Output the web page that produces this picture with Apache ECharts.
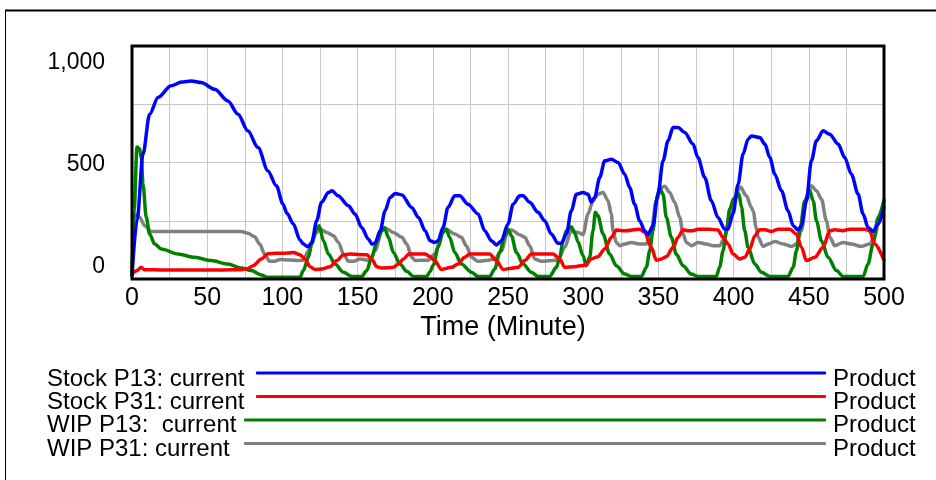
<!DOCTYPE html>
<html>
<head>
<meta charset="utf-8">
<script src="https://cdn.jsdelivr.net/npm/echarts@6/dist/echarts.min.js"></script>
<style>
  html, body { margin: 0; padding: 0; background: #fff; }
  #chart { width: 936px; height: 480px; }
</style>
</head>
<body>
<div id="chart"></div>
<script>
// ---- data (Time in minutes, value in Product) ----
const seriesNames = ['Stock P13: current', 'Stock P31: current', 'WIP P13:  current', 'WIP P31: current'];
const seriesColors = ['#0000ff', '#ff0000', '#008000', '#808080'];
const unitLabel = 'Product';
const xTitle = 'Time (Minute)';
const yLabelValues = [0, 500, 1000];

const stockP13 = [[0,15],[3.5,260],[7.3,536],[11.7,707],[17.3,779],[26,829],[33,845],[39.5,850],[46,843],[55,814],[63.8,764],[70.5,707],[77,636],[83.8,564],[90.4,464],[96,400],[100.4,321],[103,282],[107.3,236],[111.7,167],[114,150],[117,138],[119.5,157],[122.8,250],[126,329],[130.6,371],[133,379],[137,357],[143.9,314],[148.3,279],[152.7,221],[157.2,171],[159.4,150],[161.6,154],[165,207],[168.3,293],[171.6,350],[175,367],[179.4,361],[186,307],[190.5,264],[194.9,207],[198.2,164],[201.3,157],[203.5,164],[206.8,221],[210.1,307],[214.6,357],[217.9,357],[223.4,321],[230.1,279],[234.5,207],[239,164],[242.3,146],[245.6,164],[250,236],[253.4,321],[257.8,357],[260,357],[264.4,329],[270,286],[274.4,250],[278.8,193],[283.3,153],[285.5,153],[288.8,193],[292.1,293],[295.5,364],[299.9,371],[303.2,364],[305.4,329],[307.6,350],[311,436],[314.3,507],[318.7,514],[323.2,500],[327.6,450],[330.9,393],[334.2,321],[337.5,250],[340.9,207],[343.1,190],[346.4,229],[349.7,364],[353.1,507],[356.4,593],[359.7,650],[363.1,650],[367.5,629],[373,579],[376.3,521],[380.8,436],[385.2,336],[389.6,264],[394.1,214],[396.3,214],[399.6,280],[403,407],[406.3,536],[409.6,600],[411.9,614],[417.4,607],[420.8,579],[424.1,521],[427.4,450],[431.8,379],[436.2,293],[439.6,229],[442.9,210],[445.1,229],[448.4,336],[451.7,507],[455.1,593],[459.5,636],[463.9,621],[469.5,579],[473.9,521],[478.3,450],[482.8,364],[486.1,279],[489.4,221],[492.7,204],[496.1,236],[500,310]];

const stockP31 = [[0,22],[3,35],[6.2,50],[8,40],[20,39],[40,39],[60,39],[72.7,40],[77,45],[80.5,57],[86,86],[90.4,108],[96,110],[100.4,110],[104,112],[107.3,114],[111.7,104],[115,86],[118.4,53],[121.7,41],[126.2,43],[131.7,53],[136.2,79],[140.6,104],[145,107],[156.1,104],[159.4,86],[162.7,53],[166.1,47],[173.8,50],[177.1,64],[180.5,86],[184.2,107],[194.9,107],[198.2,95],[201.3,79],[205.7,41],[212.4,50],[216.8,64],[221.2,93],[224.5,107],[237.8,107],[242.3,79],[246.7,41],[252.3,46],[256.7,50],[261.2,79],[265.6,107],[280,107],[284.4,86],[287.7,50],[294.4,53],[299.9,58],[301.5,60],[305.4,86],[309.8,96],[314.3,129],[318.7,179],[322,210],[327.6,207],[337.5,214],[340.9,200],[345.3,136],[348.6,81],[352,86],[355.3,96],[359.7,136],[363.1,179],[366.4,211],[369.7,207],[373,207],[376.3,214],[384.1,214],[389.6,210],[393,179],[396.3,150],[399.7,107],[404.1,86],[407.4,93],[410.8,129],[414.1,186],[417.4,211],[420.8,211],[425.2,204],[429.7,214],[437.4,214],[441.8,193],[445.1,136],[448.4,79],[454,93],[459.5,136],[463.9,207],[467.3,211],[472.8,207],[477.2,214],[487.2,214],[490.5,207],[493.8,150],[500,80]];

const wipP13 = [[0,20],[1.5,300],[3.3,566],[5,560],[6.2,520],[7.3,407],[9.5,264],[11.7,193],[15.1,150],[19.5,129],[30.6,107],[41.7,93],[52.7,79],[63.8,64],[72.7,47],[79.3,36],[86,17],[90.4,7],[100,7],[111.7,7],[113.9,36],[117.3,93],[119.5,150],[122.8,214],[124.4,229],[127.3,164],[130.6,107],[135,64],[140.6,29],[146.1,11],[152.7,11],[156.1,36],[159.4,93],[162.7,157],[166.1,207],[167.8,221],[170.5,179],[173.8,114],[178.2,64],[182.7,33],[187.1,11],[196,11],[198,30],[200.4,60],[203.5,136],[206.8,200],[209,214],[211.2,179],[214.6,114],[219,64],[225.7,29],[230.1,11],[237.8,11],[241.2,43],[244.5,114],[247.8,186],[250,214],[252.3,186],[255.6,114],[260,64],[265.6,29],[270,11],[277.7,11],[282.2,50],[284.4,93],[286.6,164],[288.8,207],[292.1,224],[294.5,195],[296.5,160],[299.9,100],[302.1,57],[304.3,93],[306.5,207],[308.1,286],[309.8,271],[313.2,193],[317.6,107],[322,57],[327.6,21],[332,11],[338.7,11],[342,50],[344.2,121],[346.4,207],[348.6,336],[350.8,393],[353.1,364],[355.3,264],[358.6,179],[361.9,107],[366.4,57],[371.9,21],[376.3,11],[388.5,11],[390.7,50],[393,121],[395.2,207],[397.4,300],[400,345],[403.5,366],[405.2,310],[407.4,207],[409.6,136],[414.1,64],[418.5,29],[424.1,11],[436.2,11],[439.6,50],[441.8,121],[444,207],[447.3,336],[450.6,380],[452.9,336],[455.1,250],[458.4,164],[462.8,93],[468.4,36],[472.8,11],[486.1,11],[489.4,64],[492.7,150],[496.1,264],[500,340]];

const wipP31 = [[0,20],[1.5,200],[3,275],[5.1,264],[8.4,229],[12.9,204],[20,204],[40,204],[60,204],[72.7,204],[77.1,196],[81.6,181],[84.9,150],[88.2,107],[91.5,76],[94.9,76],[98.4,84],[105,82],[110.6,79],[113.9,81],[117.3,121],[121.7,193],[125.1,214],[129.5,200],[133.9,186],[137.3,157],[140.6,107],[144,76],[147.2,76],[151.6,86],[158.3,79],[161.6,121],[166.1,207],[168.3,219],[173.8,200],[179.4,179],[182.7,150],[186,93],[188.3,79],[193.8,81],[196.8,81],[201.3,107],[206.8,207],[209,214],[214.6,193],[219,179],[222.3,143],[225.7,93],[230.1,76],[236.8,81],[241.2,86],[245.6,121],[250,207],[252.3,210],[257.8,190],[261.2,179],[264.4,143],[267.8,86],[272.2,76],[278.8,79],[283.3,81],[287.7,136],[292.1,207],[296.6,200],[299.9,190],[303.2,279],[306.5,336],[309.8,364],[313.2,371],[316.5,336],[318.7,279],[319.8,207],[322,157],[324.3,143],[327.6,150],[332,157],[337.5,150],[342,150],[345.3,214],[348.6,336],[352,393],[354.2,398],[357.5,371],[360.8,329],[364.2,264],[366.4,193],[368.6,157],[372,143],[376.3,157],[381.9,150],[386.3,143],[390.7,143],[394.1,179],[397.4,264],[400,330],[404.5,395],[408.5,357],[411.9,307],[413.1,290],[414.9,224],[416.3,180],[419.6,140],[423,150],[427.4,161],[432.9,150],[438.5,140],[441.8,150],[445.1,207],[448.4,336],[451.7,400],[455.1,379],[458.4,343],[461.7,250],[464,179],[467.3,143],[472.8,157],[478.3,150],[485,140],[490.5,150],[493.8,186],[497.2,264],[500,330]];

const seriesData = [stockP13, stockP31, wipP13, wipP31];

// ---- chart ----
const FONT = '"Liberation Sans", Arial, Helvetica, sans-serif';
const chart = echarts.init(document.getElementById('chart'), null, { renderer: 'canvas' });

const legendText = { fontSize: 24, fontFamily: FONT, color: '#000', lineHeight: 23 };
const lineLegendBase = {
  orient: 'vertical', padding: 0, itemGap: 20.5, itemHeight: 3, icon: 'roundRect',
  selectedMode: false, formatter: () => '', textStyle: { fontSize: 2, lineHeight: 2 }
};
const textLegendBase = {
  orient: 'vertical', padding: 0, itemGap: -0.6, itemWidth: 0, itemHeight: 23, icon: 'none',
  selectedMode: false, textStyle: legendText
};

const option = {
  animation: false,
  backgroundColor: '#ffffff',
  textStyle: { fontFamily: FONT },
  graphic: [
    { type: 'line', silent: true, shape: { x1: 5.5, y1: 10, x2: 5.5, y2: 480 }, style: { stroke: '#000', lineWidth: 1 } },
    { type: 'line', silent: true, shape: { x1: 5, y1: 10.5, x2: 936, y2: 10.5 }, style: { stroke: '#000', lineWidth: 2 } }
  ],
  grid: { left: 132, top: 46, right: 52, bottom: 201, show: true, borderColor: '#000', borderWidth: 3, backgroundColor: 'transparent', z: 10 },
  xAxis: {
    type: 'value', min: 0, max: 500, interval: 25,
    axisLine: { show: false }, axisTick: { show: false },
    splitLine: { show: true, lineStyle: { color: '#c8c8c8', width: 1 } },
    axisLabel: { formatter: v => (v % 50 === 0 ? String(v) : ''), fontSize: 25, color: '#000', margin: 7, fontFamily: FONT },
    name: xTitle, nameLocation: 'middle', nameGap: 35,
    nameTextStyle: { fontSize: 27, color: '#000', fontFamily: FONT, padding: [0, 10, 0, 0] }
  },
  yAxis: [
    {
      type: 'value', min: 0, max: 1000, interval: 250,
      axisLine: { show: false }, axisTick: { show: false }, axisLabel: { show: false },
      splitLine: { show: true, lineStyle: { color: '#c8c8c8', width: 1 } }
    },
    {
      type: 'value', position: 'left', min: -58.8, max: 1083.3,
      axisLine: { show: false }, axisTick: { show: false }, splitLine: { show: false },
      axisLabel: { customValues: yLabelValues, formatter: v => Number(v).toLocaleString('en-US'), fontSize: 23, color: '#000', margin: 27, fontFamily: FONT }
    }
  ],
  legend: [
    Object.assign({}, lineLegendBase, { data: seriesNames.slice(0, 2), left: 256, top: 371.5, itemWidth: 570 }),
    Object.assign({}, lineLegendBase, { data: seriesNames.slice(2, 4), left: 244, top: 418.5, itemWidth: 582 }),
    Object.assign({}, textLegendBase, { data: seriesNames, left: 42, top: 367, formatter: name => name }),
    Object.assign({}, textLegendBase, { data: seriesNames, left: 828, top: 367, formatter: () => unitLabel })
  ],
  series: seriesNames.map((name, i) => ({
    name: name,
    type: 'line',
    data: seriesData[i],
    yAxisIndex: 0,
    showSymbol: false,
    symbol: 'none',
    smooth: 0.3,
    smoothMonotone: 'x',
    color: seriesColors[i],
    z: 5 - i,
    lineStyle: { width: 3.5, color: seriesColors[i], cap: 'round', join: 'round' }
  }))
};

chart.setOption(option);
</script>
</body>
</html>
